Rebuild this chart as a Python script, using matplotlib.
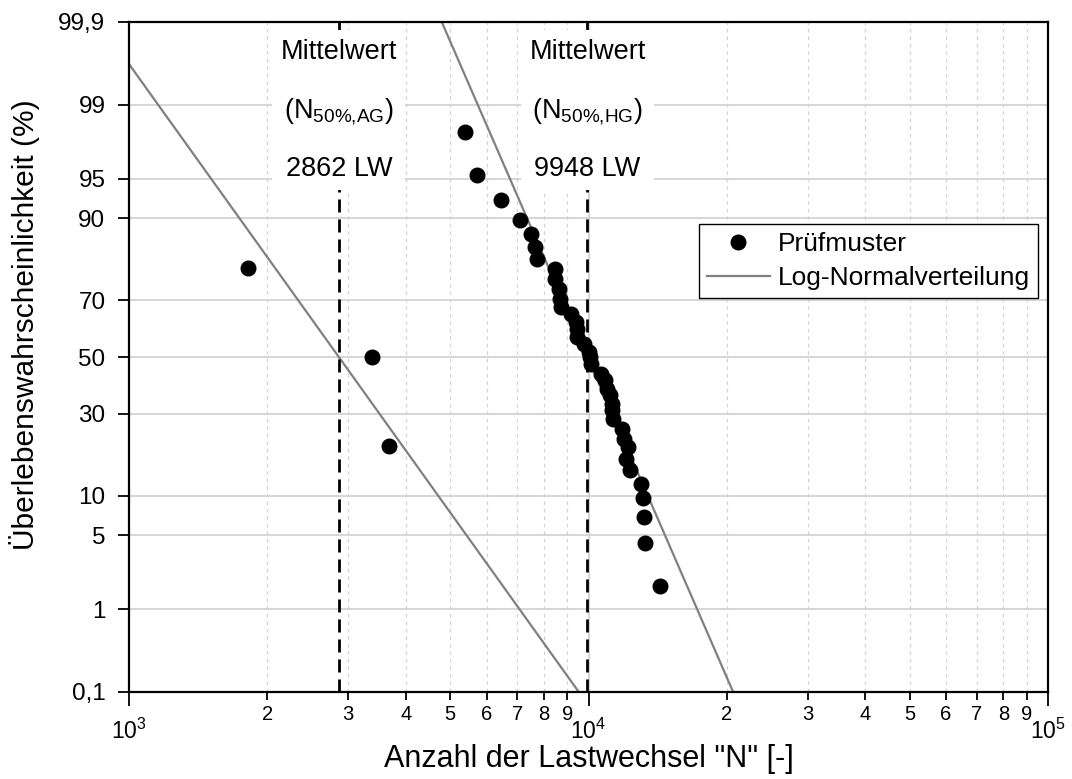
import numpy as np
import matplotlib
matplotlib.use('Agg')
import matplotlib.pyplot as plt
from matplotlib import ticker
from statistics import NormalDist

plt.rcParams['font.family'] = ['Liberation Sans', 'DejaVu Sans']
plt.rcParams['mathtext.default'] = 'regular'

# Prüfmuster, Gruppe AG (3 Proben)
n_ag = [1811, 3383, 3682]
p_ag = [79.4, 50.0, 20.6]

# Prüfmuster, Gruppe HG
n_hg = [5383, 5714, 6443, 7081, 7480, 7640, 7709, 8435, 8475, 8620,
        8660, 8700, 9140, 9370, 9460, 9420, 9800, 10000, 10090, 10150,
        10620, 10880, 10990, 11160, 11230, 11270, 11300, 11850, 11970, 12210,
        12090, 12330, 13030, 13160, 13220, 13290, 14330]
p_hg = [98.1, 95.3, 92.6, 89.7, 87.2, 84.5, 81.7, 79.2, 76.4, 73.5,
        70.4, 67.8, 65.4, 62.7, 60.2, 57.3, 54.8, 51.8, 50.0, 47.4,
        43.8, 41.6, 38.4, 36.3, 33.2, 31.2, 28.4, 25.3, 22.5, 20.3,
        17.3, 14.9, 12.1, 9.7, 7.0, 4.3, 1.73]

# Log-Normalverteilung: Mittelwert und Streuung (log10)
mean_ag, sigma_ag = 2862, 0.169
mean_hg, sigma_hg = 9948, 0.1026

y_ticks = [0.1, 1, 5, 10, 30, 50, 70, 90, 95, 99, 99.9]
y_labels = ['0,1', '1', '5', '10', '30', '50', '70', '90', '95', '99', '99,9']

_nd = NormalDist()
_inv = np.vectorize(_nd.inv_cdf, otypes=[float])
_cdf = np.vectorize(_nd.cdf, otypes=[float])


def to_z(p):
    p = np.clip(np.asarray(p, dtype=float) / 100.0, 1e-12, 1 - 1e-12)
    return _inv(p)


def from_z(z):
    return _cdf(np.asarray(z, dtype=float)) * 100.0


def survival(n, mean, sigma):
    z = (np.log10(mean) - np.log10(n)) / sigma
    return from_z(z)


fig = plt.figure(figsize=(10.72, 7.79), dpi=100)
ax = fig.add_axes([129 / 1072, 1 - 692 / 779, 919 / 1072, 670 / 779])
ax.set_xscale('log')
ax.set_yscale('function', functions=(to_z, from_z))
ax.set_xlim(1e3, 1e5)
ax.set_ylim(0.1, 99.9)

# grid
ax.set_yticks(y_ticks)
ax.set_yticklabels(y_labels)
ax.xaxis.set_major_locator(ticker.LogLocator(base=10))
ax.xaxis.set_minor_locator(ticker.LogLocator(base=10, subs=range(2, 10)))
ax.xaxis.set_minor_formatter(ticker.FuncFormatter(
    lambda v, pos: f'{v / 10 ** np.floor(np.log10(v) + 1e-9):.0f}'))
ax.grid(True, which='major', color='#cfcfcf', lw=1.2, zorder=0)
ax.grid(True, which='minor', axis='x', color='#d5d5d5', lw=0.9, ls=(0, (3, 3)), zorder=0)
ax.set_axisbelow(True)

# fitted lines
n_line = np.logspace(3, 5, 600)
ax.plot(n_line, survival(n_line, mean_ag, sigma_ag), color='#808080', lw=1.6, zorder=2)
ax.plot(n_line, survival(n_line, mean_hg, sigma_hg), color='#808080', lw=1.6, zorder=2,
        label='Log-Normalverteilung')

# mean lines
for m in (mean_ag, mean_hg):
    ax.axvline(m, color='black', lw=2, ls=(0, (4.7, 2.5)), zorder=3)

ax.plot(n_ag + n_hg, p_ag + p_hg, 'o', color='black', ms=10.5, zorder=4, label='Prüfmuster')

for m, tag in ((mean_ag, 'AG'), (mean_hg, 'HG')):
    ax.text(m, 0.868, f'Mittelwert\n(N$_{{50\\%{{,}}{tag}}}$)\n{m} LW',
            transform=ax.get_xaxis_transform(), ha='center', va='center',
            fontsize=19.5, linespacing=2.45, zorder=5,
            bbox=dict(facecolor='white', edgecolor='none', pad=6))

handles, labels = ax.get_legend_handles_labels()
leg = ax.legend(handles[::-1], labels[::-1], loc='upper right', bbox_to_anchor=(0.989, 0.698),
                borderaxespad=0, fontsize=19, fancybox=False, framealpha=1,
                edgecolor='black', handlelength=2.4, handletextpad=0.3, borderpad=0.3,
                labelspacing=0.38)
leg.get_frame().set_linewidth(1.0)
leg.set_zorder(6)

for s in ax.spines.values():
    s.set_linewidth(1.6)
    s.set_zorder(7)

ax.tick_params(axis='y', which='major', direction='out', length=8, width=1.3, labelsize=17.5, pad=9)
ax.tick_params(axis='x', which='major', direction='out', length=10, width=1.3, labelsize=16.5, pad=9)
ax.tick_params(axis='x', which='minor', direction='out', length=5.5, width=1.3, labelsize=14.5, pad=4)

ax.set_xlabel('Anzahl der Lastwechsel "N" [-]', fontsize=22, labelpad=0)
ax.set_ylabel('Überlebenswahrscheinlichkeit (%)', fontsize=21.5)
ax.yaxis.set_label_coords(-0.097, 0.548)

fig.savefig('out.png', dpi=100)
